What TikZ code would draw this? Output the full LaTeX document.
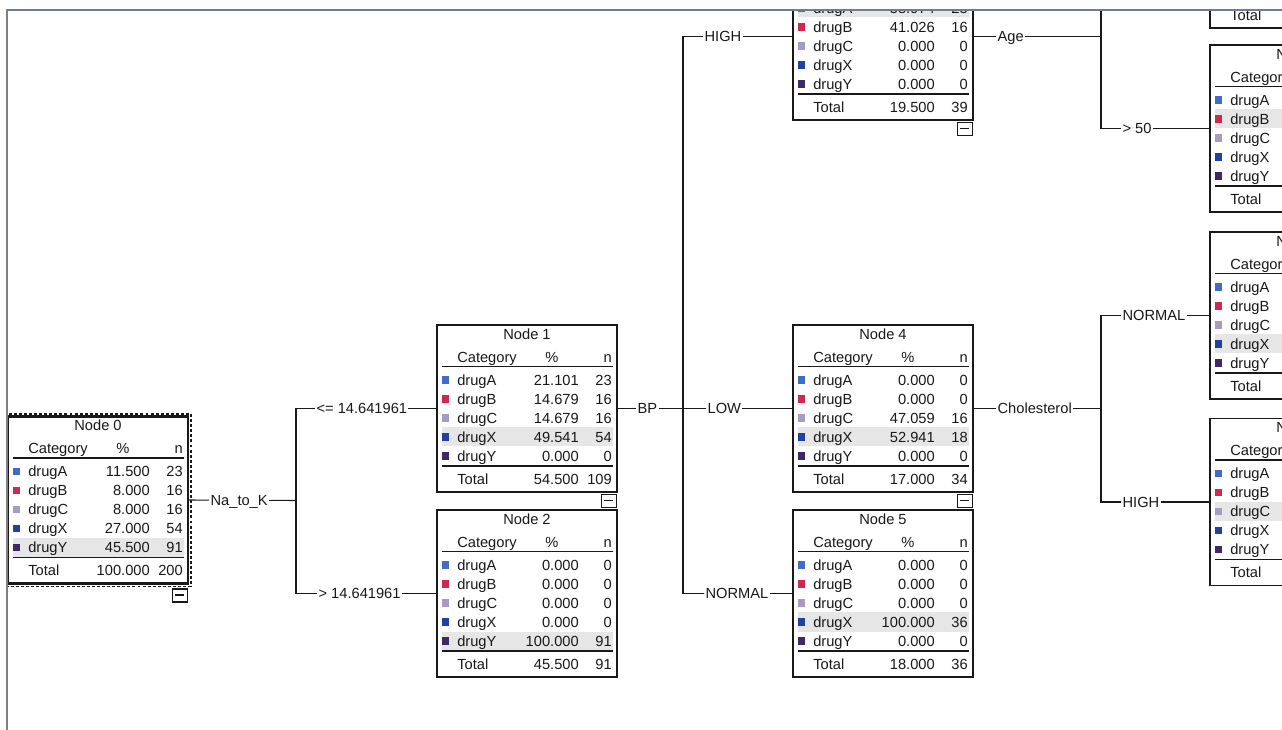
\documentclass[tikz,border=0pt]{standalone}
\usepackage{fontspec}
\setmainfont{Liberation Sans}
\usetikzlibrary{calc}
\definecolor{c1}{RGB}{66,107,196}
\definecolor{c2}{RGB}{208,40,80}
\definecolor{c3}{RGB}{168,155,192}
\definecolor{c4}{RGB}{34,64,160}
\definecolor{c5}{RGB}{64,40,104}
\definecolor{hlgray}{RGB}{230,230,230}
\definecolor{inkc}{RGB}{25,25,25}
\definecolor{topbar}{RGB}{110,126,142}
\definecolor{sidebar}{RGB}{128,128,128}
\tikzset{
  x=0.75pt, y=-0.75pt,
  txt/.style={inner sep=0pt, text=inkc, font=\fontsize{11}{13}\selectfont},
  tbox/.style={draw=inkc, line width=0.8pt, fill=white, inner sep=0pt, outer sep=0pt,
    minimum width=135pt, minimum height=125.25pt},
  rulel/.style={draw=inkc, line width=0.9pt},
  hl/.style={fill=hlgray},
  conn/.style={draw=inkc, line width=0.8pt},
  lab/.style={fill=white, inner xsep=1pt, inner ysep=0pt, anchor=west, text=inkc,
    font=\fontsize{11}{13}\selectfont, text height=7.8pt, text depth=0pt},
  minusbox/.style={draw=inkc, line width=0.8pt, fill=white, inner sep=0pt,
    minimum width=11.25pt, minimum height=9.75pt},
  selbox/.style={draw=inkc, line width=0.8pt, dash pattern=on 2.2pt off 1.6pt}
}
% #1 name, #2 left, #3 top, #4 title, #5 rows p/n, #6 total p, #7 total n,
% #8 highlighted row, #9 mode (0 all text; 1 no figures; 2 no title/header; 3 only Total)
\newcommand\dtab[9]{%
  \node[tbox, anchor=north west] (#1) at (#2,#3) {};
  \begin{scope}[shift={(#2,#3)}]
    \foreach[count=\i] \p/\n in {#5} {
      \pgfmathsetmacro\yy{36+19*\i}
      \ifnum\i=#8 \fill[hl] (5,\yy-9.5) rectangle (176,\yy+9.5);\fi
      \fill[c\i] (5,\yy-3.6) rectangle (12.2,\yy+3.6);
      \ifnum#9<3
        \node[txt, anchor=base west] (#1-t\i) at (20,\yy+5.3) {drug\ifcase\i\or A\or B\or C\or X\or Y\fi};
      \fi
      \ifodd#9\else
        \node[txt, anchor=base east] (#1-p\i) at (142,\yy+5.3) {\p};
        \node[txt, anchor=base east] (#1-n\i) at (175,\yy+5.3) {\n};
      \fi
    }
    \ifnum#9<2
      \node[txt, anchor=base] (#1-title) at (90,14.5) {#4};
      \node[txt, anchor=base west] (#1-hc) at (20,37.5) {Category};
    \fi
    \ifnum#9=0
      \node[txt, anchor=base] (#1-hp) at (115,37.5) {\%};
      \node[txt, anchor=base east] (#1-hn) at (175,37.5) {n};
    \fi
    \draw[rulel] (5,41.5) -- (176,41.5);
    \draw[rulel] (5,141) -- (176,141);
    \node[txt, anchor=base west] (#1-tt) at (20,159.5) {Total};
    \ifodd#9\else
      \node[txt, anchor=base east] (#1-tp) at (142,159.5) {#6};
      \node[txt, anchor=base east] (#1-tn) at (175,159.5) {#7};
    \fi
  \end{scope}}
\newcommand\minusmark[2]{% #1 name of box node, #2 parent node
  \node[minusbox, anchor=north east] (#1) at ($(#2.south east)+(0,2)$) {};
  \draw[inkc, line width=0.8pt] ($(#1.center)+(-4.5,-0.5)$) -- ($(#1.center)+(4.5,-0.5)$);}
\begin{document}
\begin{tikzpicture}
\useasboundingbox (0,0) rectangle (1282,730);
\fill[white] (0,0) rectangle (1282,730);
\begin{scope}
\clip (7,11) rectangle (1282,730);
% tables
\dtab{n0}{8}{416.5}{Node 0}{11.500/23, 8.000/16, 8.000/16, 27.000/54, 45.500/91}{100.000}{200}{5}{0}
\draw[inkc, line width=1.8pt] (n0.north west) rectangle (n0.south east);
\draw[selbox] ($(n0.north west)+(-2,-2.5)$) rectangle ($(n0.south east)+(3,3)$);
\dtab{n1}{437}{325}{Node 1}{21.101/23, 14.679/16, 14.679/16, 49.541/54, 0.000/0}{54.500}{109}{4}{0}
\dtab{n2}{437}{510}{Node 2}{0.000/0, 0.000/0, 0.000/0, 0.000/0, 100.000/91}{45.500}{91}{5}{0}
\dtab{n3}{793}{-47}{Node 3}{58.974/23, 41.026/16, 0.000/0, 0.000/0, 0.000/0}{19.500}{39}{1}{2}
\dtab{n4}{793}{325}{Node 4}{0.000/0, 0.000/0, 47.059/16, 52.941/18, 0.000/0}{17.000}{34}{4}{0}
\dtab{n5}{793}{510}{Node 5}{0.000/0, 0.000/0, 0.000/0, 100.000/36, 0.000/0}{18.000}{36}{4}{0}
\dtab{n6}{1210}{-139}{Node 6}{100.000/23, 0.000/0, 0.000/0, 0.000/0, 0.000/0}{11.500}{23}{1}{3}
\dtab{n7}{1210}{45}{Node 7}{0.000/0, 100.000/16, 0.000/0, 0.000/0, 0.000/0}{8.000}{16}{2}{1}
\dtab{n8}{1210}{232}{Node 8}{0.000/0, 0.000/0, 0.000/0, 100.000/18, 0.000/0}{9.000}{18}{4}{1}
\dtab{n9}{1210}{418.5}{Node 9}{0.000/0, 0.000/0, 100.000/16, 0.000/0, 0.000/0}{8.000}{16}{3}{1}
% collapse marks
\node[minusbox, anchor=north east] (m0) at ($(n0.south east)+(0,5)$) {};
\draw[inkc, line width=0.8pt] ($(m0.center)+(-4.5,-0.5)$) -- ($(m0.center)+(4.5,-0.5)$);
\minusmark{m1}{n1}
\minusmark{m3}{n3}
\minusmark{m4}{n4}
% split on Na_to_K
\coordinate (v0) at (296,500.5);
\draw[conn] (n0.east) -- (v0);
\draw[conn] (v0) |- (n1.west);
\draw[conn] (v0) |- (n2.west);
\node[lab] (l0) at (209,500.5) {Na\_to\_K};
\node[lab] (l1) at (315,408.5) {<= 14.641961};
\node[lab] (l2) at (317,593.5) {> 14.641961};
% split on BP
\coordinate (v1) at (683,408.5);
\draw[conn] (n1.east) -- (v1);
\draw[conn] (v1) |- (n3.west);
\draw[conn] (v1) -- (n4.west);
\draw[conn] (v1) |- (n5.west);
\node[lab] (l3) at (636,408.5) {BP};
\node[lab] (l4) at (703,36.5) {HIGH};
\node[lab] (l5) at (706,408.5) {LOW};
\node[lab] (l6) at (704,593.5) {NORMAL};
% split on Age
\coordinate (v3) at (1101,36.5);
\draw[conn] (n3.east) -- (v3);
\draw[conn] (v3) |- (n6.west);
\draw[conn] (v3) |- (n7.west);
\node[lab] (l7) at (996,36.5) {Age};
\node[lab] (l8) at (1121,128.5) {> 50};
% split on Cholesterol
\coordinate (v4) at (1101,408.5);
\draw[conn] (n4.east) -- (v4);
\draw[conn] (v4) |- (n8.west);
\draw[conn] (v4) |- (n9.west);
\node[lab] (l9) at (996,408.5) {Cholesterol};
\node[lab] (l10) at (1121,315.5) {NORMAL};
\node[lab] (l11) at (1121,502) {HIGH};
\end{scope}
% window frame
\draw[topbar, line width=1.6pt] (6,10) -- (1282,10);
\draw[sidebar, line width=1.4pt] (7,10) -- (7,730);
\end{tikzpicture}
\end{document}
